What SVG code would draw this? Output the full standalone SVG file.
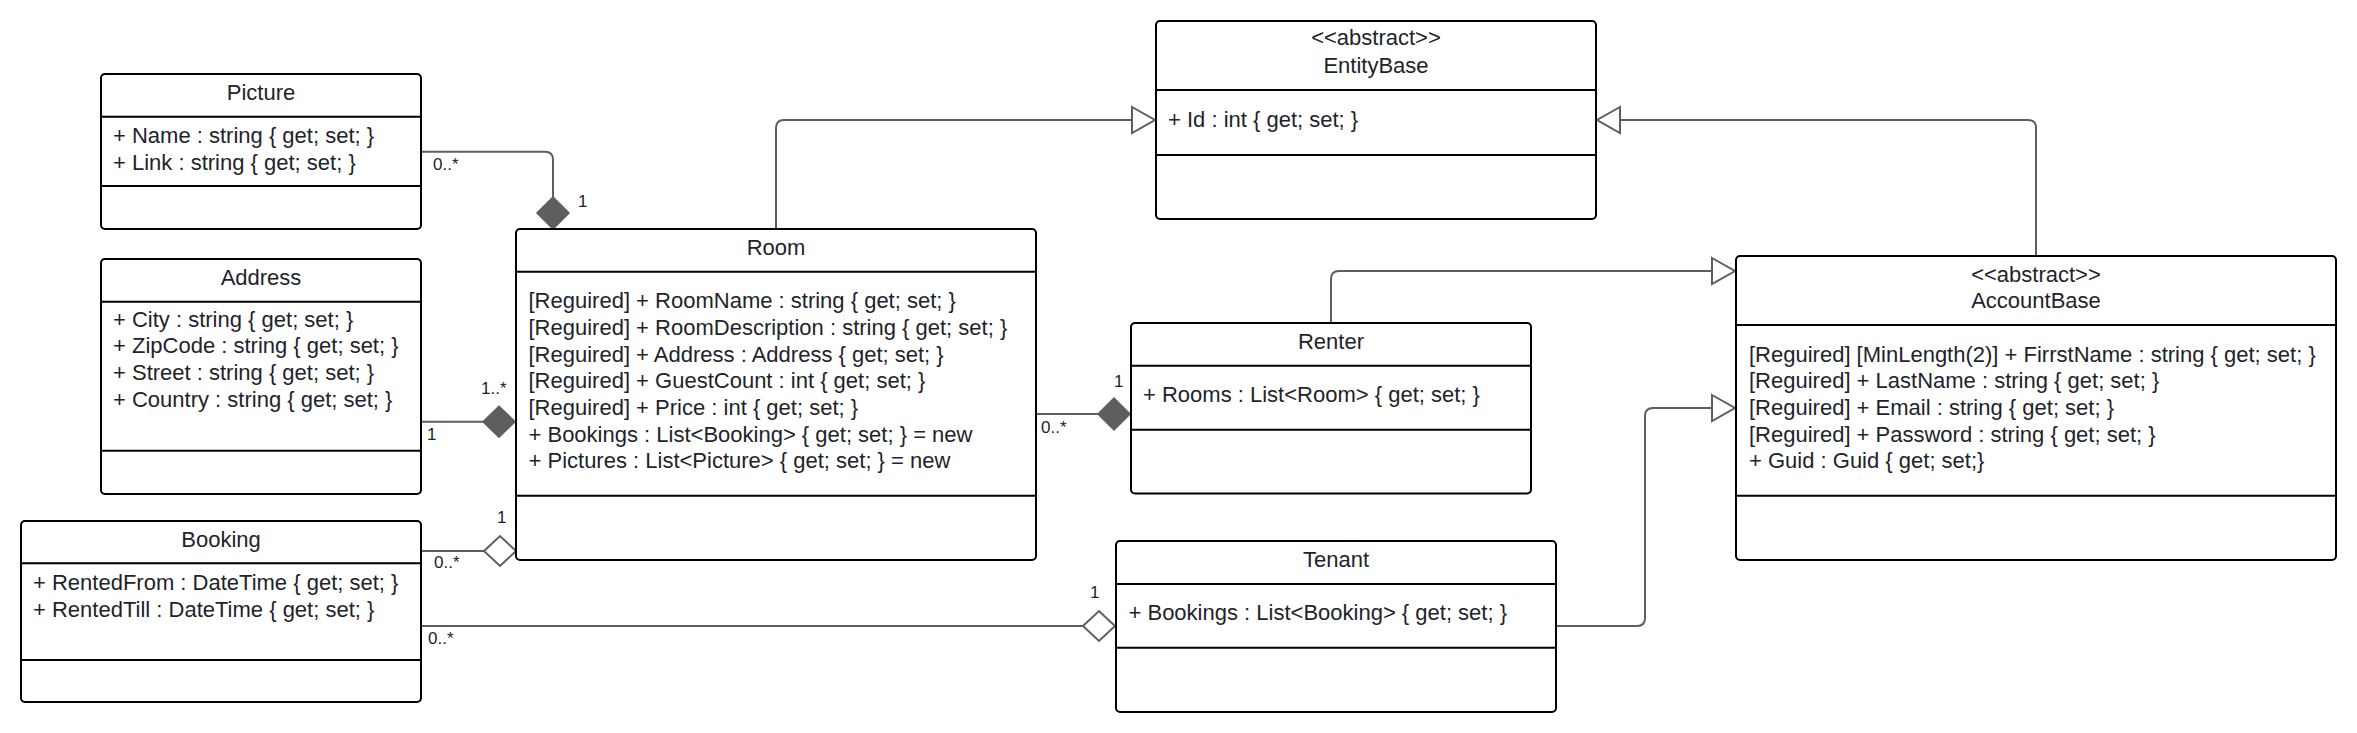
<svg xmlns="http://www.w3.org/2000/svg" width="2357" height="733" viewBox="0 0 2357 733">
<style>
.box{fill:#fff;stroke:#000;stroke-width:2}
.div{stroke:#000;stroke-width:2}
.t{font-family:"Liberation Sans",Arial,sans-serif;font-size:22px;fill:#1f232a}
.c{text-anchor:middle}
.lbl{font-family:"Liberation Sans",Arial,sans-serif;font-size:17px;fill:#1f232a}
.con{fill:none;stroke:#5e5e5e;stroke-width:2}
.fd{fill:#5e5e5e;stroke:#5e5e5e;stroke-width:1.5}
.hd{fill:#fff;stroke:#5e5e5e;stroke-width:2}
</style>
<rect width="2357" height="733" fill="#fff"/>
<g id="connectors">
  <path class="con" d="M421,151.7 H545 Q553,151.7 553,159.7 V197"/>
  <polygon class="fd" points="553,197 569,213 553,229 537,213"/>
  <path class="con" d="M421,421.7 H483"/>
  <polygon class="fd" points="483,421.7 499,406.2 515,421.7 499,437.2"/>
  <path class="con" d="M421,551 H484"/>
  <polygon class="hd" points="484,551 500,536 516,551 500,566"/>
  <path class="con" d="M421,626 H1083"/>
  <polygon class="hd" points="1083,626 1099,611 1115,626 1099,641"/>
  <path class="con" d="M1036,414 H1098"/>
  <polygon class="fd" points="1098,414 1114,398 1130,414 1114,430"/>
  <path class="con" d="M776,229 V128 Q776,120 784,120 H1132"/>
  <polygon class="hd" points="1132,107 1155,120 1132,133"/>
  <path class="con" d="M2036,256 V128 Q2036,120 2028,120 H1620"/>
  <polygon class="hd" points="1620,107 1597,120 1620,133"/>
  <path class="con" d="M1331,323 V279 Q1331,271 1339,271 H1712"/>
  <polygon class="hd" points="1712,258 1735,271 1712,284"/>
  <path class="con" d="M1556,626 H1637 Q1645,626 1645,618 V416 Q1645,408 1653,408 H1712"/>
  <polygon class="hd" points="1712,395 1735,408 1712,421"/>
  <text class="lbl" x="433" y="170">0..*</text>
  <text class="lbl" x="578" y="207">1</text>
  <text class="lbl" x="481" y="394">1..*</text>
  <text class="lbl" x="427" y="440">1</text>
  <text class="lbl" x="497" y="523">1</text>
  <text class="lbl" x="434" y="568">0..*</text>
  <text class="lbl" x="428" y="644">0..*</text>
  <text class="lbl" x="1090" y="598">1</text>
  <text class="lbl" x="1041" y="433">0..*</text>
  <text class="lbl" x="1114" y="387">1</text>
</g>
<g id="Picture">
  <rect class="box" x="101" y="74" width="320" height="155" rx="4"/>
  <line class="div" x1="101" y1="116.7" x2="421" y2="116.7"/>
  <line class="div" x1="101" y1="186" x2="421" y2="186"/>
  <text class="t c" x="261" y="100">Picture</text>
  <text class="t" x="113" y="143.3">+ Name : string { get; set; }</text>
  <text class="t" x="113" y="170">+ Link : string { get; set; }</text>
</g>
<g id="Address">
  <rect class="box" x="101" y="259" width="320" height="235" rx="4"/>
  <line class="div" x1="101" y1="301.7" x2="421" y2="301.7"/>
  <line class="div" x1="101" y1="450.7" x2="421" y2="450.7"/>
  <text class="t c" x="261" y="285">Address</text>
  <text class="t" x="113" y="326.7">+ City : string { get; set; }</text>
  <text class="t" x="113" y="353.3">+ ZipCode : string { get; set; }</text>
  <text class="t" x="113" y="380">+ Street : string { get; set; }</text>
  <text class="t" x="113" y="406.7">+ Country : string { get; set; }</text>
</g>
<g id="Booking">
  <rect class="box" x="21" y="521" width="400" height="181" rx="4"/>
  <line class="div" x1="21" y1="563.3" x2="421" y2="563.3"/>
  <line class="div" x1="21" y1="660" x2="421" y2="660"/>
  <text class="t c" x="221" y="546.7">Booking</text>
  <text class="t" x="33" y="590">+ RentedFrom : DateTime { get; set; }</text>
  <text class="t" x="33" y="616.7">+ RentedTill : DateTime { get; set; }</text>
</g>
<g id="Room">
  <rect class="box" x="516" y="229" width="520" height="331" rx="4"/>
  <line class="div" x1="516" y1="271.7" x2="1036" y2="271.7"/>
  <line class="div" x1="516" y1="495.7" x2="1036" y2="495.7"/>
  <text class="t c" x="776" y="255">Room</text>
  <text class="t" x="528.5" y="308.3">[Reguired] + RoomName : string { get; set; }</text>
  <text class="t" x="528.5" y="335">[Reguired] + RoomDescription : string { get; set; }</text>
  <text class="t" x="528.5" y="361.7">[Reguired] + Address : Address { get; set; }</text>
  <text class="t" x="528.5" y="388.3">[Reguired] + GuestCount : int { get; set; }</text>
  <text class="t" x="528.5" y="415">[Reguired] + Price : int { get; set; }</text>
  <text class="t" x="528.5" y="441.7">+ Bookings : List&lt;Booking&gt; { get; set; } = new</text>
  <text class="t" x="528.5" y="468.3">+ Pictures : List&lt;Picture&gt; { get; set; } = new</text>
</g>
<g id="EntityBase">
  <rect class="box" x="1156" y="21" width="440" height="198" rx="4"/>
  <line class="div" x1="1156" y1="90" x2="1596" y2="90"/>
  <line class="div" x1="1156" y1="155" x2="1596" y2="155"/>
  <text class="t c" x="1376" y="45">&lt;&lt;abstract&gt;&gt;</text>
  <text class="t c" x="1376" y="73.3">EntityBase</text>
  <text class="t" x="1168" y="126.7">+ Id : int { get; set; }</text>
</g>
<g id="Renter">
  <rect class="box" x="1131" y="323" width="400" height="170.5" rx="4"/>
  <line class="div" x1="1131" y1="365.7" x2="1531" y2="365.7"/>
  <line class="div" x1="1131" y1="429.7" x2="1531" y2="429.7"/>
  <text class="t c" x="1331" y="349.3">Renter</text>
  <text class="t" x="1143" y="401.7">+ Rooms : List&lt;Room&gt; { get; set; }</text>
</g>
<g id="Tenant">
  <rect class="box" x="1116" y="541" width="440" height="171" rx="4"/>
  <line class="div" x1="1116" y1="584" x2="1556" y2="584"/>
  <line class="div" x1="1116" y1="647.7" x2="1556" y2="647.7"/>
  <text class="t c" x="1336" y="566.7">Tenant</text>
  <text class="t" x="1128.5" y="620">+ Bookings : List&lt;Booking&gt; { get; set; }</text>
</g>
<g id="AccountBase">
  <rect class="box" x="1736" y="256" width="600" height="304" rx="4"/>
  <line class="div" x1="1736" y1="325" x2="2336" y2="325"/>
  <line class="div" x1="1736" y1="495.7" x2="2336" y2="495.7"/>
  <text class="t c" x="2036" y="281.7">&lt;&lt;abstract&gt;&gt;</text>
  <text class="t c" x="2036" y="308.3">AccountBase</text>
  <text class="t" x="1749" y="361.7">[Reguired] [MinLength(2)] + FirrstName : string { get; set; }</text>
  <text class="t" x="1749" y="388.3">[Reguired] + LastName : string { get; set; }</text>
  <text class="t" x="1749" y="415">[Reguired] + Email : string { get; set; }</text>
  <text class="t" x="1749" y="441.7">[Reguired] + Password : string { get; set; }</text>
  <text class="t" x="1749" y="468.3">+ Guid : Guid { get; set;}</text>
</g>
</svg>
